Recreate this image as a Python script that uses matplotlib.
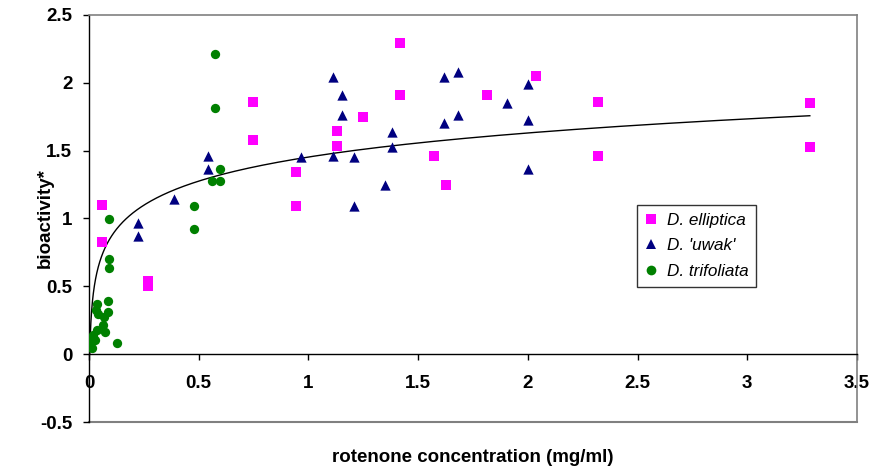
import numpy as np
import matplotlib
matplotlib.use("Agg")
import matplotlib.pyplot as plt
from matplotlib.lines import Line2D

plt.rcParams['font.family'] = ['Liberation Sans', 'DejaVu Sans']

# D. elliptica
ell_x = [0.059, 0.059, 0.27, 0.27, 0.747, 0.747, 0.944, 0.944, 1.128, 1.128,
         1.248, 1.418, 1.418, 1.573, 1.626, 1.816, 2.038, 2.319, 2.319, 3.285, 3.285]
ell_y = [1.096, 0.83, 0.54, 0.50, 1.86, 1.576, 1.343, 1.093, 1.642, 1.532,
         1.745, 2.296, 1.914, 1.463, 1.248, 1.914, 2.049, 1.86, 1.461, 1.853, 1.527]

# D. 'uwak'
uwak_x = [0.225, 0.225, 0.386, 0.541, 0.541, 0.966, 1.113, 1.113, 1.151, 1.151,
          1.207, 1.207, 1.347, 1.382, 1.382, 1.616, 1.616, 1.683, 1.683, 1.907,
          1.999, 1.999, 1.999]
uwak_y = [0.965, 0.868, 1.142, 1.458, 1.363, 1.451, 2.044, 1.458, 1.909, 1.762,
          1.456, 1.09, 1.248, 1.64, 1.527, 2.044, 1.703, 2.083, 1.765, 1.855,
          1.995, 1.728, 1.363]

# D. trifoliata
tri_x = [0.574, 0.574, 0.597, 0.562, 0.597, 0.478, 0.478, 0.093, 0.093, 0.093,
         0.129, 0.038, 0.088, 0.031, 0.088, 0.042, 0.068, 0.065, 0.073, 0.035,
         0.02, 0.001, 0.027, 0.001, 0.012, 0.003]
tri_y = [2.216, 1.814, 1.365, 1.277, 1.277, 1.093, 0.924, 0.998, 0.701, 0.635,
         0.081, 0.368, 0.39, 0.323, 0.311, 0.299, 0.275, 0.213, 0.164, 0.176,
         0.14, 0.103, 0.108, 0.054, 0.042, 0.08]

# logarithmic trend line y = a*ln(x) + b
trend_a = 0.256
trend_b = 1.453
trend_xmin, trend_xmax = 0.0035, 3.285

xticks = [0, 0.5, 1, 1.5, 2, 2.5, 3, 3.5]
xticklabels = ['0', '0.5', '1', '1.5', '2', '2.5', '3', '3.5']
yticks = [-0.5, 0, 0.5, 1, 1.5, 2, 2.5]
yticklabels = ['-0.5', '0', '0.5', '1', '1.5', '2', '2.5']

fig = plt.figure(figsize=(8.75, 4.69), dpi=100)
ax = fig.add_axes([89/875, 47/469, 768/875, 407/469])
ax.set_xlim(0, 3.5)
ax.set_ylim(-0.5, 2.5)

tx = np.linspace(np.log(trend_xmin), np.log(trend_xmax), 400)
tx = np.exp(tx)
ax.plot(tx, trend_a*np.log(tx) + trend_b, color='black', lw=1.0, zorder=2)

ax.scatter(ell_x, ell_y, marker='s', s=42, color='#FF00FF', linewidths=0, zorder=3)
ax.scatter(uwak_x, uwak_y, marker='^', s=55, color='#000080', linewidths=0, zorder=3)
ax.scatter(tri_x, tri_y, marker='o', s=45, color='#008000', linewidths=0, zorder=3)

for s in ['top', 'right']:
    ax.spines[s].set_color('#808080')
    ax.spines[s].set_linewidth(1.2)
ax.spines['left'].set_color('black')
ax.spines['left'].set_linewidth(1.0)
ax.spines['bottom'].set_position(('data', 0))
ax.spines['bottom'].set_color('black')
ax.spines['bottom'].set_linewidth(1.0)
ax.axhline(-0.5, color='#808080', lw=1.5, clip_on=False, zorder=1)

ax.set_xticks(xticks)
ax.set_xticklabels(xticklabels, fontsize=13.5, fontweight='bold')
ax.set_yticks(yticks)
ax.set_yticklabels(yticklabels, fontsize=13.5, fontweight='bold')
ax.tick_params(axis='x', direction='out', length=4, width=1, pad=11)
ax.tick_params(axis='y', direction='out', length=4, width=1, pad=8)

fig.text(473/875, 1 - 457/469, 'rotenone concentration (mg/ml)', fontsize=13.5,
         fontweight='bold', ha='center', va='center')
fig.text(45/875, 1 - 218/469, 'bioactivity*', fontsize=13.5, fontweight='bold',
         ha='center', va='center', rotation=90)

handles = [
    Line2D([], [], marker='s', color='#FF00FF', ls='none', markersize=6.5, markeredgewidth=0),
    Line2D([], [], marker='^', color='#000080', ls='none', markersize=7, markeredgewidth=0),
    Line2D([], [], marker='o', color='#008000', ls='none', markersize=7, markeredgewidth=0),
]
labels = ["D. elliptica", "D. 'uwak'", "D. trifoliata"]
leg = ax.legend(handles, labels, loc='upper left', bbox_to_anchor=(0.7135, 0.533),
                borderaxespad=0, frameon=True, fancybox=False, edgecolor='black',
                prop={'size': 12.3, 'style': 'italic'}, handlelength=0.8,
                handletextpad=0.5, labelspacing=0.62, borderpad=0.45)
leg.get_frame().set_linewidth(1.0)

fig.savefig('out.png', dpi=100)
